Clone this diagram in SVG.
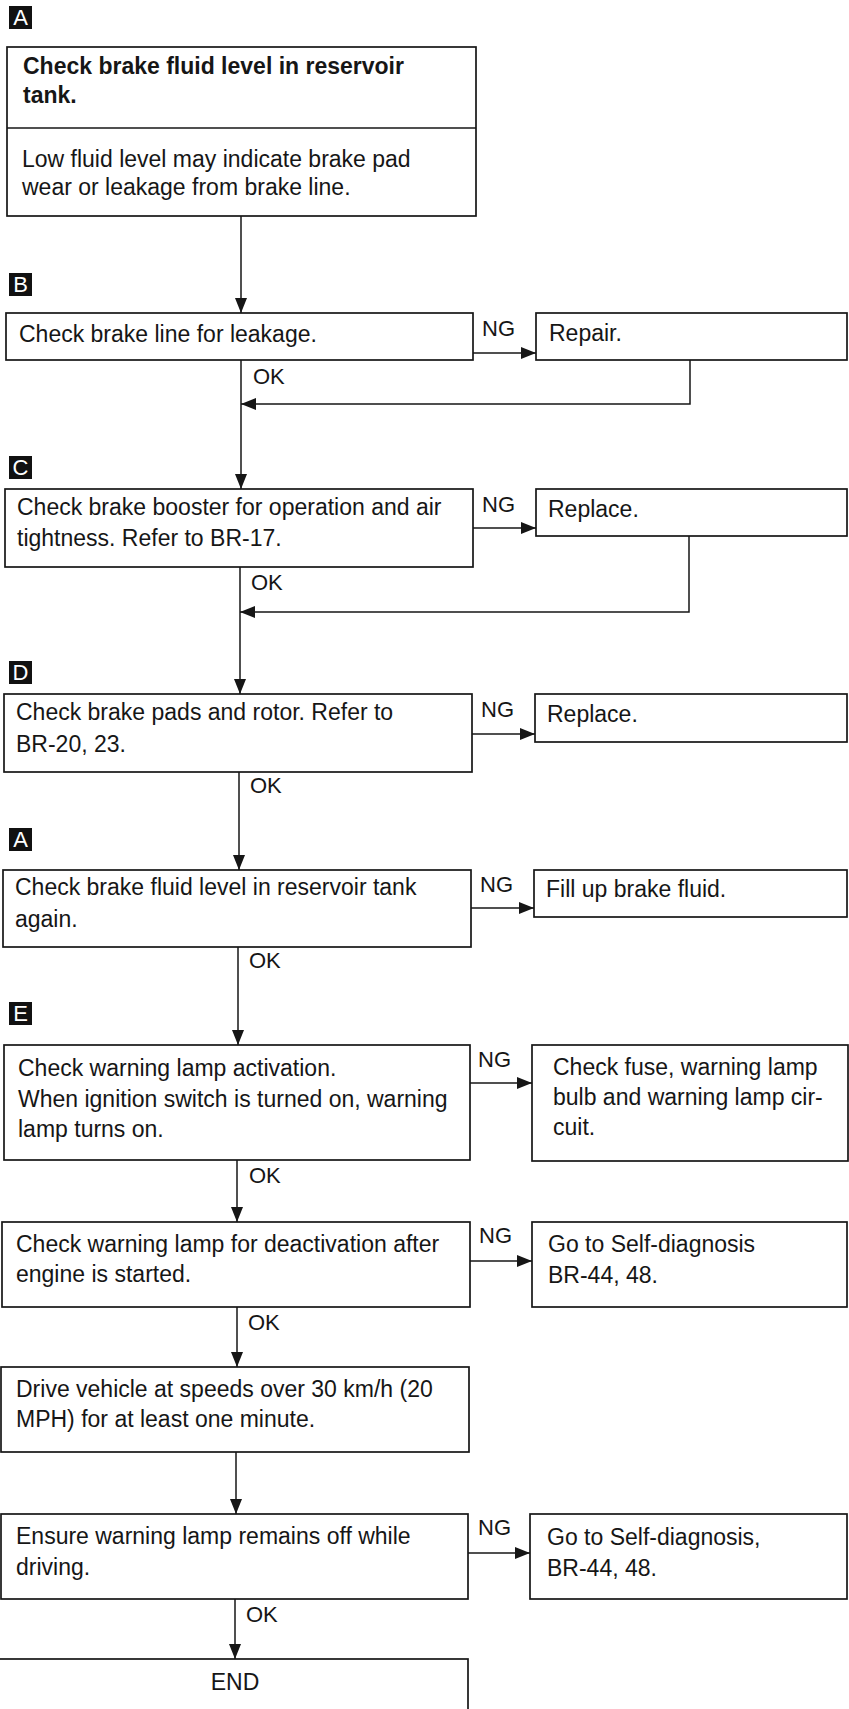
<svg xmlns="http://www.w3.org/2000/svg" width="849" height="1709" viewBox="0 0 849 1709">
<style>
.box{fill:#fff;stroke:#161616;stroke-width:1.7}
.t{font-family:"Liberation Sans",Arial,sans-serif;font-size:23px;fill:#161616}
.b{font-weight:bold}
.lbl{font-family:"Liberation Sans",Arial,sans-serif;font-size:22px;fill:#161616}
.tag{fill:#111}
.tagt{font-family:"Liberation Sans",Arial,sans-serif;font-size:22px;fill:#fff;text-anchor:middle}
.c{fill:none;stroke:#161616;stroke-width:1.5}
.ca{fill:none;stroke:#161616;stroke-width:1.5;marker-end:url(#ah)}
</style>
<defs>
<marker id="ah" markerUnits="userSpaceOnUse" markerWidth="16" markerHeight="12" refX="15" refY="6" orient="auto">
<path d="M0,0 L15,6 L0,12 z" fill="#161616"/>
</marker>
</defs>
<rect width="849" height="1709" fill="#fff"/>

<g id="tag-A1"><rect class="tag" x="9" y="6" width="23" height="23"/><text class="tagt" x="20.5" y="25">A</text></g>
<g id="tag-B"><rect class="tag" x="9" y="273" width="23" height="23"/><text class="tagt" x="20.5" y="292">B</text></g>
<g id="tag-C"><rect class="tag" x="9" y="456" width="23" height="23"/><text class="tagt" x="20.5" y="475">C</text></g>
<g id="tag-D"><rect class="tag" x="9" y="661" width="23" height="23"/><text class="tagt" x="20.5" y="680">D</text></g>
<g id="tag-A2"><rect class="tag" x="9" y="828" width="23" height="23"/><text class="tagt" x="20.5" y="847">A</text></g>
<g id="tag-E"><rect class="tag" x="9" y="1002" width="23" height="23"/><text class="tagt" x="20.5" y="1021">E</text></g>

<g id="node-check-fluid">
<rect class="box" x="7" y="47" width="469" height="169"/>
<line x1="7" y1="128" x2="476" y2="128" stroke="#161616" stroke-width="1.7"/>
<text class="t b" x="23" y="74">Check brake fluid level in reservoir</text>
<text class="t b" x="23" y="103">tank.</text>
<text class="t" x="22" y="167">Low fluid level may indicate brake pad</text>
<text class="t" x="22" y="195">wear or leakage from brake line.</text>
</g>

<g id="node-check-line">
<rect class="box" x="6" y="313" width="467" height="47"/>
<text class="t" x="19" y="342">Check brake line for leakage.</text>
</g>
<g id="node-repair">
<rect class="box" x="536" y="313" width="311" height="47"/>
<text class="t" x="549" y="341">Repair.</text>
</g>

<g id="node-check-booster">
<rect class="box" x="5" y="489" width="468" height="78"/>
<text class="t" x="17" y="515">Check brake booster for operation and air</text>
<text class="t" x="17" y="546">tightness. Refer to BR-17.</text>
</g>
<g id="node-replace-booster">
<rect class="box" x="536" y="489" width="311" height="47"/>
<text class="t" x="548" y="517">Replace.</text>
</g>

<g id="node-check-pads">
<rect class="box" x="4" y="694" width="468" height="78"/>
<text class="t" x="16" y="720">Check brake pads and rotor. Refer to</text>
<text class="t" x="16" y="752">BR-20, 23.</text>
</g>
<g id="node-replace-pads">
<rect class="box" x="535" y="694" width="312" height="48"/>
<text class="t" x="547" y="722">Replace.</text>
</g>

<g id="node-check-fluid-again">
<rect class="box" x="3" y="870" width="468" height="77"/>
<text class="t" x="15" y="895">Check brake fluid level in reservoir tank</text>
<text class="t" x="15" y="927">again.</text>
</g>
<g id="node-fill-fluid">
<rect class="box" x="534" y="870" width="313" height="47"/>
<text class="t" x="546" y="897">Fill up brake fluid.</text>
</g>

<g id="node-lamp-activation">
<rect class="box" x="4" y="1045" width="466" height="115"/>
<text class="t" x="18" y="1076">Check warning lamp activation.</text>
<text class="t" x="18" y="1107">When ignition switch is turned on, warning</text>
<text class="t" x="18" y="1137">lamp turns on.</text>
</g>
<g id="node-check-fuse">
<rect class="box" x="532" y="1045" width="316" height="116"/>
<text class="t" x="553" y="1075">Check fuse, warning lamp</text>
<text class="t" x="553" y="1105">bulb and warning lamp cir-</text>
<text class="t" x="553" y="1135">cuit.</text>
</g>

<g id="node-lamp-deactivation">
<rect class="box" x="2" y="1222" width="468" height="85"/>
<text class="t" x="16" y="1252">Check warning lamp for deactivation after</text>
<text class="t" x="16" y="1282">engine is started.</text>
</g>
<g id="node-self-diag-1">
<rect class="box" x="532" y="1222" width="315" height="85"/>
<text class="t" x="548" y="1252">Go to Self-diagnosis</text>
<text class="t" x="548" y="1283">BR-44, 48.</text>
</g>

<g id="node-drive">
<rect class="box" x="1" y="1367" width="468" height="85"/>
<text class="t" x="16" y="1397">Drive vehicle at speeds over 30 km/h (20</text>
<text class="t" x="16" y="1427">MPH) for at least one minute.</text>
</g>

<g id="node-ensure-off">
<rect class="box" x="1" y="1514" width="467" height="85"/>
<text class="t" x="16" y="1544">Ensure warning lamp remains off while</text>
<text class="t" x="16" y="1575">driving.</text>
</g>
<g id="node-self-diag-2">
<rect class="box" x="530" y="1514" width="317" height="85"/>
<text class="t" x="547" y="1545">Go to Self-diagnosis,</text>
<text class="t" x="547" y="1576">BR-44, 48.</text>
</g>

<g id="node-end">
<rect class="box" x="-2" y="1659" width="470" height="60"/>
<text class="t" x="235" y="1690" text-anchor="middle">END</text>
</g>

<g id="connectors">
<line class="ca" x1="241" y1="216" x2="241" y2="313"/>
<line class="ca" x1="473" y1="353" x2="536" y2="353"/>
<polyline class="ca" points="690,360 690,404 241,404"/>
<line class="ca" x1="241" y1="360" x2="241" y2="489"/>
<line class="ca" x1="473" y1="528" x2="536" y2="528"/>
<polyline class="ca" points="689,536 689,612 240,612"/>
<line class="ca" x1="240" y1="567" x2="240" y2="694"/>
<line class="ca" x1="472" y1="734" x2="535" y2="734"/>
<line class="ca" x1="239" y1="772" x2="239" y2="870"/>
<line class="ca" x1="471" y1="908" x2="534" y2="908"/>
<line class="ca" x1="238" y1="947" x2="238" y2="1045"/>
<line class="ca" x1="470" y1="1083" x2="532" y2="1083"/>
<line class="ca" x1="237" y1="1160" x2="237" y2="1222"/>
<line class="ca" x1="470" y1="1261" x2="532" y2="1261"/>
<line class="ca" x1="237" y1="1307" x2="237" y2="1367"/>
<line class="ca" x1="236" y1="1452" x2="236" y2="1514"/>
<line class="ca" x1="468" y1="1553" x2="530" y2="1553"/>
<line class="ca" x1="235" y1="1599" x2="235" y2="1659"/>
<text class="lbl" x="482" y="336">NG</text>
<text class="lbl" x="253" y="384">OK</text>
<text class="lbl" x="482" y="512">NG</text>
<text class="lbl" x="251" y="590">OK</text>
<text class="lbl" x="481" y="717">NG</text>
<text class="lbl" x="250" y="793">OK</text>
<text class="lbl" x="480" y="892">NG</text>
<text class="lbl" x="249" y="968">OK</text>
<text class="lbl" x="478" y="1067">NG</text>
<text class="lbl" x="249" y="1183">OK</text>
<text class="lbl" x="479" y="1243">NG</text>
<text class="lbl" x="248" y="1330">OK</text>
<text class="lbl" x="478" y="1535">NG</text>
<text class="lbl" x="246" y="1622">OK</text>
</g>
</svg>
